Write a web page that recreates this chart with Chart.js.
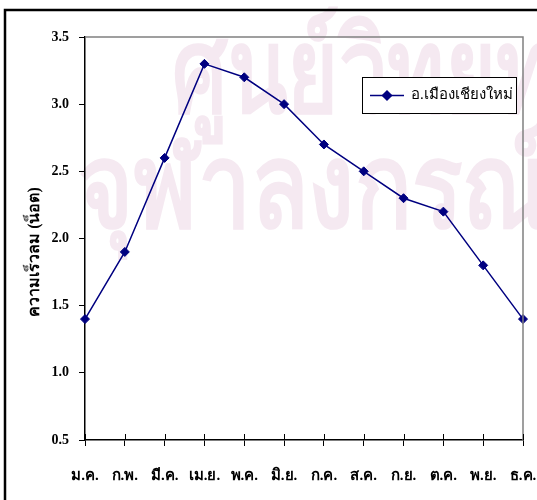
<!DOCTYPE html>
<html>
<head>
<meta charset="utf-8">
<script src="https://cdn.jsdelivr.net/npm/chart.js@4"></script>
<style>
  html, body { margin: 0; padding: 0; background: #ffffff; }
  #wrap { width: 537px; height: 500px; }
</style>
</head>
<body>
<div id="wrap"><canvas id="chart" width="537" height="500"></canvas></div>
<script>
// Monthly average wind speed, Mueang Chiang Mai district
const months = ['ม.ค.', 'ก.พ.', 'มี.ค.', 'เม.ย.', 'พ.ค.', 'มิ.ย.', 'ก.ค.', 'ส.ค.', 'ก.ย.', 'ต.ค.', 'พ.ย.', 'ธ.ค.'];
const windSpeed = [1.4, 1.9, 2.6, 3.3, 3.2, 3.0, 2.7, 2.5, 2.3, 2.2, 1.8, 1.4];
const seriesLabel = 'อ.เมืองเชียงใหม่';
const yTitle = 'ความเร็วลม (น็อต)';
const watermarkLines = ['ศูนย์วิทยทรัพยากร', 'จุฬาลงกรณ์มหาวิทยาลัย'];

const SERIF = '"Liberation Serif", "Times New Roman", serif';
const NAVY = '#000080';

// Faint background text, outer frame, plot border, inner tick halves, axis title and legend box
const decor = {
  id: 'decor',
  beforeDraw(chart) {
    const ctx = chart.ctx;
    ctx.save();
    ctx.fillStyle = '#fff';
    ctx.fillRect(0, 0, chart.width, chart.height);
    ctx.fillStyle = '#f5e9f1';
    ctx.textBaseline = 'alphabetic';
    ctx.font = 'bold 118px ' + SERIF;
    ctx.save();
    ctx.translate(172, 112);
    ctx.scale(0.74, 1);
    ctx.fillText(watermarkLines[0], 0, 0);
    ctx.restore();
    ctx.save();
    ctx.translate(78, 227);
    ctx.scale(0.8, 1);
    ctx.fillText(watermarkLines[1], 0, 0);
    ctx.restore();
    ctx.restore();
  },
  afterDatasetsDraw(chart) {
    const ctx = chart.ctx;
    const a = chart.chartArea;
    ctx.save();
    // plot area top/right edge
    ctx.strokeStyle = '#808080';
    ctx.lineWidth = 1.5;
    ctx.beginPath();
    ctx.moveTo(a.left, a.top);
    ctx.lineTo(a.right, a.top);
    ctx.lineTo(a.right, a.bottom);
    ctx.stroke();
    // x tick marks crossing into the plot area
    const xs = chart.scales.x;
    ctx.strokeStyle = '#000';
    ctx.lineWidth = 1;
    ctx.beginPath();
    xs.ticks.forEach((t, i) => {
      const px = Math.round(xs.getPixelForTick(i)) + 0.5;
      ctx.moveTo(px, a.bottom - 6);
      ctx.lineTo(px, a.bottom);
    });
    ctx.stroke();
    // outer frame
    ctx.strokeStyle = '#000';
    ctx.lineWidth = 2.5;
    ctx.beginPath();
    ctx.moveTo(5, chart.height);
    ctx.lineTo(5, 10);
    ctx.lineTo(chart.width, 10);
    ctx.stroke();
    // value axis title
    ctx.fillStyle = '#000';
    ctx.font = 'bold 16px ' + SERIF;
    ctx.textAlign = 'center';
    ctx.textBaseline = 'middle';
    ctx.translate(35, 252);
    ctx.rotate(-Math.PI / 2);
    ctx.fillText(yTitle, 0, 0);
    ctx.restore();
  },
  afterDraw(chart) {
    const ctx = chart.ctx;
    const ds = chart.data.datasets[0];
    const bx = 362, by = 77, bw = 154, bh = 36;
    ctx.save();
    ctx.fillStyle = '#fff';
    ctx.fillRect(bx, by, bw, bh);
    ctx.strokeStyle = '#000';
    ctx.lineWidth = 1;
    ctx.strokeRect(bx + 0.5, by + 0.5, bw, bh);
    const cy = by + bh / 2 + 0.5;
    ctx.strokeStyle = ds.borderColor;
    ctx.lineWidth = ds.borderWidth;
    ctx.beginPath();
    ctx.moveTo(370, cy);
    ctx.lineTo(404, cy);
    ctx.stroke();
    Chart.helpers.drawPoint(ctx, { pointStyle: 'rectRot', radius: ds.pointRadius, borderWidth: 1 }, 387, cy);
    ctx.fillStyle = ds.pointBackgroundColor;
    ctx.fill();
    ctx.fillStyle = '#000';
    ctx.font = '15px ' + SERIF;
    ctx.textBaseline = 'middle';
    ctx.fillText(ds.label, 411, cy);
    ctx.restore();
  }
};

new Chart(document.getElementById('chart'), {
  type: 'line',
  data: {
    labels: months,
    datasets: [{
      label: seriesLabel,
      data: windSpeed,
      borderColor: NAVY,
      backgroundColor: NAVY,
      pointBackgroundColor: NAVY,
      pointBorderColor: NAVY,
      borderWidth: 1.5,
      pointStyle: 'rectRot',
      pointRadius: 4.5,
      pointBorderWidth: 1,
      tension: 0,
      fill: false
    }]
  },
  options: {
    responsive: false,
    animation: false,
    devicePixelRatio: 1,
    layout: { padding: { left: 0, right: 14, top: 37, bottom: 0 } },
    plugins: {
      legend: { display: false },
      tooltip: { enabled: false }
    },
    scales: {
      x: {
        type: 'category',
        offset: false,
        grid: { display: true, drawOnChartArea: false, drawTicks: true, tickLength: 6, color: '#000', lineWidth: 1 },
        border: { display: true, color: '#000', width: 1.5 },
        ticks: {
          color: '#000',
          font: { family: SERIF, size: 15, weight: 'bold' },
          padding: 21,
          maxRotation: 0,
          autoSkip: false
        },
        afterFit(scale) {
          scale.height = 60;
          scale.paddingLeft = 0;
          scale.paddingRight = 0;
        }
      },
      y: {
        min: 0.5,
        max: 3.5,
        grid: { display: true, drawOnChartArea: false, drawTicks: true, tickLength: 6, color: '#000', lineWidth: 1 },
        border: { display: true, color: '#000', width: 1.5 },
        ticks: {
          stepSize: 0.5,
          color: '#000',
          font: { family: SERIF, size: 14, weight: 'bold' },
          padding: 10,
          callback: v => Number(v).toFixed(1)
        },
        title: { display: false },
        afterFit(scale) {
          scale.width = 85;
          scale.paddingTop = 0;
          scale.paddingBottom = 0;
        }
      }
    }
  },
  plugins: [decor]
});
</script>
</body>
</html>
